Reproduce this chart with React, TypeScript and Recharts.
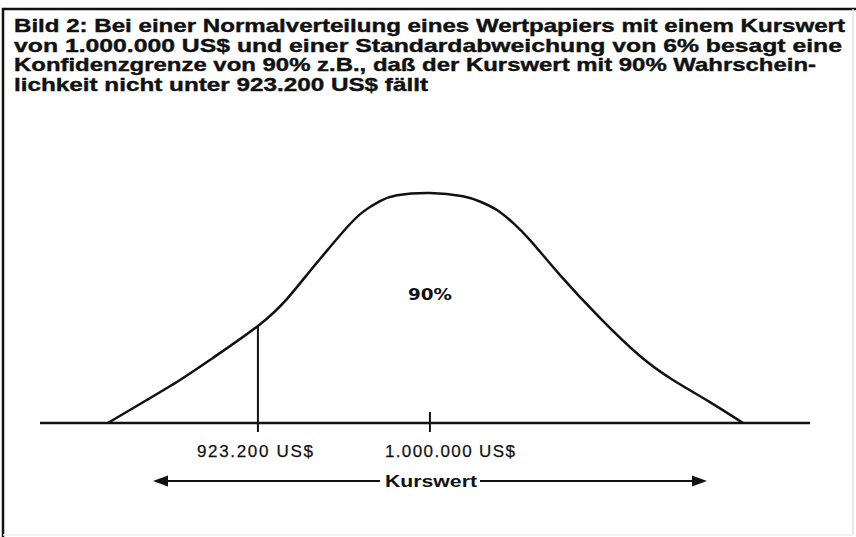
import React from "react";
import { ComposedChart, Line, XAxis, YAxis, ReferenceLine, ReferenceDot } from "recharts";

// ---- data ----
const titleLines = [
  "Bild 2: Bei einer Normalverteilung eines Wertpapiers mit einem Kurswert",
  "von 1.000.000 US$ und einer Standardabweichung von 6% besagt eine",
  "Konfidenzgrenze von 90% z.B., daß der Kurswert mit 90% Wahrschein-",
  "lichkeit nicht unter 923.200 US$ fällt",
];

// Kurswert (US$) along the curve
const kurswert = [
  856200, 873600, 888400, 903100, 923200, 936200, 946400, 955400, 962900, 970100, 977700, 985300,
  1000000, 1014700, 1022300, 1029900, 1037100, 1044700, 1058100, 1075900, 1093800, 1108500, 1125000, 1139800,
];
// relative density (peak = 100)
const dichte = [
  0, 10, 18.7, 28.3, 42.2, 54, 66, 76.5, 85, 91.8, 96.5, 99,
  100, 98.6, 96.3, 92.6, 87, 79.5, 64.3, 45.7, 29.1, 18.7, 9.1, 0,
];

const tickValues = [923200, 1000000];
const tickLabels = ["923.200 US$", "1.000.000 US$"];
const konfidenzgrenze = 923200;
const dichteAnGrenze = 42.2;
const mittelwert = 1000000;
const flaechenLabel = "90%";
const labelHoehe = 56;
const achsenTitel = "Kurswert";
const xDomain: [number, number] = [825900, 1169700];

const data = kurswert.map((k, i) => ({ k, d: dichte[i] }));

const INK = "#111";

const Tick = (props: any) => {
  const { x, y, payload } = props;
  const idx = tickValues.indexOf(payload.value);
  const isMean = payload.value === mittelwert;
  const dx = isMean ? -45 : -61;
  const len = isMean ? 130 : 116;
  return (
    <g>
      <line x1={x} x2={x} y1={isMean ? y - 11 : y} y2={y + 9} stroke={INK} strokeWidth={2} />
      <text
        x={x + dx}
        y={y + 34}
        fill={INK}
        stroke={INK}
        strokeWidth={0.25}
        fontFamily="'Liberation Sans', Arial, sans-serif"
        fontSize={17}
        textLength={len}
        lengthAdjust="spacing"
      >
        {tickLabels[idx]}
      </text>
    </g>
  );
};

const AxisTitle = (props: any) => {
  const { viewBox } = props;
  const x0 = viewBox.x;
  const yy = viewBox.y + 58;
  const lt = x0 + 113; // left arrow tip
  const rt = x0 + 667; // right arrow tip
  return (
    <g>
      <line x1={lt + 10} x2={x0 + 340} y1={yy} y2={yy} stroke={INK} strokeWidth={2} />
      <polygon points={`${lt},${yy} ${lt + 15},${yy - 5.5} ${lt + 15},${yy + 5.5}`} fill={INK} />
      <text
        x={x0 + 345}
        y={yy + 6}
        fill={INK}
        fontFamily="'Liberation Sans', Arial, sans-serif"
        fontWeight="bold"
        fontSize={17}
        textLength={92}
        lengthAdjust="spacingAndGlyphs"
      >
        {achsenTitel}
      </text>
      <line x1={x0 + 440} x2={rt - 10} y1={yy} y2={yy} stroke={INK} strokeWidth={2} />
      <polygon points={`${rt},${yy} ${rt - 15},${yy - 5.5} ${rt - 15},${yy + 5.5}`} fill={INK} />
    </g>
  );
};

const PctLabel = (props: any) => {
  const { viewBox } = props;
  const cx = viewBox.x + (viewBox.width || 0) / 2;
  const cy = viewBox.y + (viewBox.height || 0) / 2;
  return (
    <text
      x={cx - 22}
      y={cy + 6}
      fill={INK}
      fontFamily="'DejaVu Sans', sans-serif"
      fontWeight="bold"
      fontSize={16}
      textLength={44}
      lengthAdjust="spacingAndGlyphs"
    >
      {flaechenLabel}
    </text>
  );
};

export default function App() {
  const titleWidths = [831, 828, 802, 414];
  return (
    <div style={{ position: "relative", width: 856, height: 537, background: "#fff" }}>
      <style>{`body{margin:0;background:#fff}`}</style>
      <ComposedChart
        width={856}
        height={537}
        data={data}
        margin={{ top: 193, right: 46, bottom: 44, left: 40 }}
      >
        <XAxis
          dataKey="k"
          type="number"
          domain={xDomain}
          ticks={tickValues}
          allowDataOverflow
          axisLine={{ stroke: INK, strokeWidth: 2.5 }}
          tickLine={false}
          tickSize={0}
          tickMargin={0}
          height={70}
          tick={<Tick />}
          label={{ content: <AxisTitle /> } as any}
        />
        <YAxis hide domain={[0, 100]} type="number" />
        <Line
          type="natural"
          dataKey="d"
          stroke={INK}
          strokeWidth={2.5}
          dot={false}
          activeDot={false}
          isAnimationActive={false}
        />
        <ReferenceLine
          segment={[
            { x: konfidenzgrenze, y: 0 },
            { x: konfidenzgrenze, y: dichteAnGrenze },
          ]}
          stroke={INK}
          strokeWidth={2}
        />
        <ReferenceDot
          x={mittelwert}
          y={labelHoehe}
          r={0}
          fill="none"
          stroke="none"
          label={{ content: <PctLabel /> } as any}
        />
      </ComposedChart>
      <svg
        width={856}
        height={537}
        style={{ position: "absolute", left: 0, top: 0, pointerEvents: "none" }}
      >
        <line x1={3} x2={3} y1={8} y2={537} stroke={INK} strokeWidth={2.5} />
        <line x1={2} x2={856} y1={9} y2={9} stroke={INK} strokeWidth={2.5} />
        <line x1={853} x2={853} y1={9} y2={535} stroke="#e2e2e2" strokeWidth={1.5} />
        <line x1={3} x2={853} y1={535} y2={535} stroke="#ececec" strokeWidth={1.5} />
        {titleLines.map((t, i) => (
          <text
            key={i}
            x={14}
            y={32 + i * 19.5}
            fill={INK}
            stroke={INK}
            strokeWidth={0.4}
            fontFamily="'Liberation Sans Narrow', 'Liberation Sans', Arial, sans-serif"
            fontWeight="bold"
            fontSize={18.5}
            textLength={titleWidths[i]}
            lengthAdjust="spacingAndGlyphs"
          >
            {t}
          </text>
        ))}
      </svg>
    </div>
  );
}
